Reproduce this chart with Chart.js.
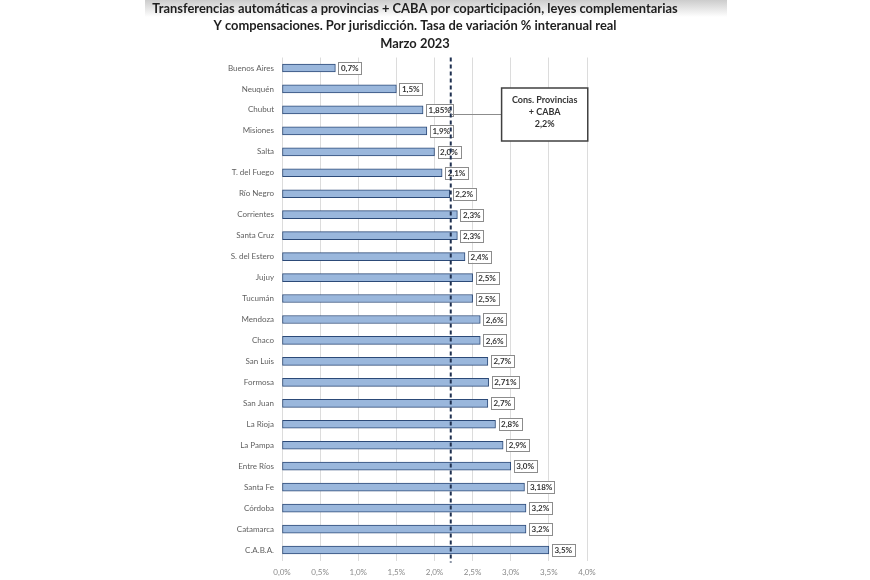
<!DOCTYPE html>
<html>
<head>
<meta charset="utf-8">
<script src="https://cdn.jsdelivr.net/npm/chart.js@4.4.0/dist/chart.umd.min.js"></script>
<style>
  html, body { margin: 0; padding: 0; background: #fff; }
  #wrap { width: 870px; height: 580px; position: relative; }
</style>
</head>
<body>
<div id="wrap"><canvas id="grafico"></canvas></div>
<script>
// Datos del gráfico
var jurisdicciones = [
  'Buenos Aires', 'Neuquén', 'Chubut', 'Misiones', 'Salta', 'T. del Fuego',
  'Río Negro', 'Corrientes', 'Santa Cruz', 'S. del Estero', 'Jujuy', 'Tucumán',
  'Mendoza', 'Chaco', 'San Luis', 'Formosa', 'San Juan', 'La Rioja',
  'La Pampa', 'Entre Ríos', 'Santa Fe', 'Córdoba', 'Catamarca', 'C.A.B.A.'
];
var variaciones = [
  0.7, 1.5, 1.85, 1.9, 2.0, 2.1,
  2.2, 2.3, 2.3, 2.4, 2.5, 2.5,
  2.6, 2.6, 2.7, 2.71, 2.7, 2.8,
  2.9, 3.0, 3.18, 3.2, 3.2, 3.5
];
var consolidado = 2.2;
var ticksX = [0, 0.5, 1, 1.5, 2, 2.5, 3, 3.5, 4];
var titulo = [
  'Transferencias automáticas a provincias + CABA por coparticipación, leyes complementarias',
  'Y compensaciones. Por jurisdicción. Tasa de variación % interanual real',
  'Marzo 2023'
];
var textoCaja = ['Cons. Provincias', '+ CABA', '2,2%'];

function formatoPct(v) {
  var dec = (String(v).split('.')[1] || '').length;
  return v.toFixed(Math.max(1, dec)).replace('.', ',') + '%';
}

var FUENTE = 'Lato, "Liberation Sans", sans-serif';

// Fondo y franja gris del título
var fondo = {
  id: 'fondo',
  beforeDraw: function (chart) {
    var ctx = chart.ctx;
    ctx.save();
    ctx.fillStyle = '#ffffff';
    ctx.fillRect(0, 0, chart.width, chart.height);
    var g = ctx.createLinearGradient(0, 0, 0, 17);
    g.addColorStop(0, '#cccccc');
    g.addColorStop(1, '#ffffff');
    ctx.fillStyle = g;
    ctx.fillRect(145, 0, 582, 17);
    ctx.restore();
  }
};

// Etiquetas de valor, línea punteada y caja
var extras = {
  id: 'extras',
  afterDatasetsDraw: function (chart) {
    var ctx = chart.ctx;
    var x = chart.scales.x, area = chart.chartArea;
    var meta = chart.getDatasetMeta(0);
    ctx.save();

    // etiquetas
    ctx.font = 'bold 8px ' + FUENTE;
    ctx.textBaseline = 'middle';
    ctx.textAlign = 'left';
    meta.data.forEach(function (bar, i) {
      var txt = formatoPct(variaciones[i]);
      var w = ctx.measureText(txt).width + 5;
      var bx = bar.x + 3, by = bar.y - 6;
      ctx.fillStyle = '#ffffff';
      ctx.fillRect(bx, by, w, 12);
      ctx.strokeStyle = '#8c8c8c';
      ctx.lineWidth = 1;
      ctx.strokeRect(Math.round(bx) + 0.5, Math.round(by) + 0.5, Math.round(w), 12);
      ctx.fillStyle = '#333333';
      ctx.fillText(txt, bx + 2.5, bar.y + 0.5);
    });

    // línea del consolidado
    var cx = x.getPixelForValue(consolidado) + 1;
    ctx.strokeStyle = '#1f3050';
    ctx.lineWidth = 2;
    ctx.setLineDash([4, 3]);
    ctx.beginPath();
    ctx.moveTo(cx, area.top);
    ctx.lineTo(cx, area.bottom + 2);
    ctx.stroke();
    ctx.setLineDash([]);

    // caja
    var left = x.getPixelForValue(2.88), right = x.getPixelForValue(4.01);
    var top = 88, bottom = 141;
    ctx.strokeStyle = '#8c8c8c';
    ctx.lineWidth = 1;
    ctx.beginPath();
    ctx.moveTo(cx + 1, 114.5);
    ctx.lineTo(left, 114.5);
    ctx.stroke();
    ctx.fillStyle = '#ffffff';
    ctx.fillRect(left, top, right - left, bottom - top);
    ctx.strokeStyle = '#404040';
    ctx.lineWidth = 1.5;
    ctx.strokeRect(left, top, right - left, bottom - top);
    ctx.fillStyle = '#333333';
    ctx.font = 'bold 9px ' + FUENTE;
    ctx.textAlign = 'center';
    var mid = (left + right) / 2;
    textoCaja.forEach(function (t, i) {
      ctx.fillText(t, mid, 100 + i * 12);
    });
    ctx.restore();
  },
  afterDraw: function (chart) {
    var ctx = chart.ctx;
    ctx.save();
    ctx.font = 'bold 12.9px ' + FUENTE;
    ctx.fillStyle = '#1e1e1e';
    ctx.textAlign = 'center';
    ctx.textBaseline = 'middle';
    titulo.forEach(function (t, i) {
      ctx.fillText(t, 415, 8.5 + i * 17.5);
    });
    ctx.restore();
  }
};

var ctx = document.getElementById('grafico').getContext('2d');
var grafico = new Chart(ctx, {
  type: 'bar',
  data: {
    labels: jurisdicciones,
    datasets: [{
      data: variaciones,
      backgroundColor: '#9ab7dc',
      borderColor: '#2c4a78',
      borderWidth: 1,
      borderSkipped: false,
      barThickness: 8
    }]
  },
  options: {
    indexAxis: 'y',
    responsive: true,
    maintainAspectRatio: false,
    animation: false,
    layout: { padding: { top: 57.5, right: 283, left: 0, bottom: 0 } },
    plugins: {
      legend: { display: false },
      tooltip: { enabled: false },
      title: { display: false }
    },
    scales: {
      x: {
        min: 0,
        max: 4,
        afterBuildTicks: function (scale) {
          scale.ticks = ticksX.map(function (v) { return { value: v }; });
        },
        afterFit: function (scale) { scale.height = 19.5; },
        grid: { color: '#dcdcdc', drawTicks: false },
        border: { display: false },
        ticks: {
          padding: 7,
          color: '#8a8a8a',
          font: { family: FUENTE, size: 8 },
          callback: function (v) { return v.toFixed(1).replace('.', ',') + '%'; }
        }
      },
      y: {
        afterFit: function (scale) { scale.width = 282; },
        grid: { display: false, drawTicks: false },
        border: { display: false },
        ticks: {
          padding: 8,
          color: '#606060',
          font: { family: FUENTE, size: 8 }
        }
      }
    }
  },
  plugins: [fondo, extras]
});
</script>
</body>
</html>
